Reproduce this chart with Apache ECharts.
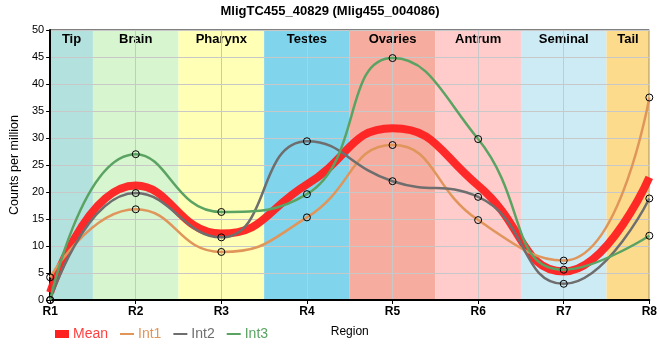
<!DOCTYPE html>
<html>
<head>
<meta charset="utf-8">
<script src="https://cdn.jsdelivr.net/npm/echarts@6/dist/echarts.min.js"></script>
<style>html,body{margin:0;padding:0;background:#fff}#c{width:660px;height:360px}</style>
</head>
<body>
<div id="c"></div>
<script>
var categories = ['R1','R2','R3','R4','R5','R6','R7','R8'];
var int1 = [4.2, 16.8, 8.9, 15.3, 28.7, 14.8, 7.3, 37.5];
var int2 = [0, 19.8, 11.6, 29.4, 22.0, 19.1, 3.0, 18.8];
var int3 = [0, 27.0, 16.3, 19.6, 44.8, 29.8, 5.6, 11.9];
var meanVals = [1.4, 21.2, 12.3, 21.4, 31.8, 21.2, 5.3, 22.7];
var regionNames = ['Tip','Brain','Pharynx','Testes','Ovaries','Antrum','Seminal','Tail'];
var regionStart = [0, 0.5, 1.5, 2.5, 3.5, 4.5, 5.5, 6.5];
var regionEnd = [0.5, 1.5, 2.5, 3.5, 4.5, 5.5, 6.5, 7];
var regionColors = ['#b3e1dd','#d7f5cf','#ffffb5','#80d4ec','#f6ac9f','#ffcbcb','#cdebf5','#fddb8c'];
var yTicks = [0, 5, 10, 15, 20, 25, 30, 35, 40, 45, 50];

function pts(arr){ return arr.map(function(v,i){ return [i, v]; }); }

var FONT = '"Liberation Sans", Arial, sans-serif';
var colors = {mean:'#ff2020', int1:'#e0955a', int2:'#6e6e6e', int3:'#5aa362'};
var SMOOTH = 0.5;

var bands = regionNames.map(function(n,i){
  return [{name:n, xAxis: regionStart[i], yAxis: 50, itemStyle:{color: regionColors[i]}},
          {xAxis: regionEnd[i], yAxis: 0}];
});

function intSeries(name, data, col){
  return {
    name: name, type: 'line', data: pts(data), smooth: SMOOTH,
    symbol: 'circle', symbolSize: 7, showSymbol: true,
    lineStyle: {color: col, width: 2.5},
    itemStyle: {color: 'rgba(0,0,0,0)', borderColor: '#000', borderWidth: 1},
    z: 3, emphasis: {disabled: true}
  };
}

var chart = echarts.init(document.getElementById('c'), null, {renderer: 'canvas'});
chart.setOption({
  animation: false,
  textStyle: {fontFamily: FONT},
  title: {text: 'MligTC455_40829 (Mlig455_004086)', left: 'center', top: 0,
    textStyle: {fontSize: 13, fontWeight: 'bold', color: '#000', fontFamily: FONT}},
  grid: {left: 50, right: 10, top: 30, bottom: 60, show: true, borderColor: '#000', borderWidth: 1, backgroundColor: 'transparent'},
  legend: {
    left: 50, top: 322, itemWidth: 14, itemHeight: 8, itemGap: 12, symbolKeepAspect: true,
    textStyle: {fontSize: 14, fontFamily: FONT, padding: [0,0,0,-1]},
    data: [
      {name: 'Mean', icon: 'rect', itemStyle: {color: colors.mean}, textStyle: {color: '#ff4040'}},
      {name: 'Int1', icon: 'path://M0,0H14V2H0Z', itemStyle: {color: colors.int1, borderWidth: 0}, textStyle: {color: colors.int1}},
      {name: 'Int2', icon: 'path://M0,0H14V2H0Z', itemStyle: {color: colors.int2, borderWidth: 0}, textStyle: {color: colors.int2}},
      {name: 'Int3', icon: 'path://M0,0H14V2H0Z', itemStyle: {color: colors.int3, borderWidth: 0}, textStyle: {color: colors.int3}}
    ]
  },
  xAxis: {
    type: 'value', min: 0, max: 7, interval: 1,
    name: 'Region', nameLocation: 'middle', nameGap: 26,
    nameTextStyle: {fontSize: 12, color: '#000', fontFamily: FONT},
    axisLine: {lineStyle: {color: '#000', width: 2}},
    axisTick: {show: true, length: 4, lineStyle: {color: '#000'}},
    axisLabel: {fontSize: 12, fontWeight: 'bold', color: '#000', margin: 6, fontFamily: FONT,
      formatter: function(v){ return categories[v] || ''; }},
    splitLine: {show: true, lineStyle: {color: '#c8c8c8', width: 1}}
  },
  yAxis: {
    type: 'value', min: yTicks[0], max: yTicks[yTicks.length-1], interval: 5,
    name: 'Counts per million', nameLocation: 'middle', nameGap: 21,
    nameTextStyle: {fontSize: 12.5, color: '#000', fontFamily: FONT},
    axisLine: {show: true, lineStyle: {color: '#000', width: 2}},
    axisTick: {show: true, length: 4, lineStyle: {color: '#000'}},
    axisLabel: {fontSize: 11, color: '#000', margin: 6, fontFamily: FONT},
    splitLine: {show: true, lineStyle: {color: '#c8c8c8', width: 1}}
  },
  series: [
    {
      name: 'bands', type: 'line', data: [], z: -5, silent: true,
      markArea: {silent: true, z: -5,
        label: {show: true, position: 'insideTop', distance: 3, fontSize: 13, fontWeight: 'bold', color: '#000', fontFamily: FONT},
        data: bands}
    },
    {
      name: 'Mean', type: 'line', data: pts(meanVals), smooth: SMOOTH,
      showSymbol: false, symbol: 'none',
      lineStyle: {color: colors.mean, width: 8, opacity: 0.95},
      itemStyle: {color: colors.mean}, z: 2, emphasis: {disabled: true}
    },
    intSeries('Int1', int1, colors.int1),
    intSeries('Int2', int2, colors.int2),
    intSeries('Int3', int3, colors.int3)
  ]
});
</script>
</body>
</html>
